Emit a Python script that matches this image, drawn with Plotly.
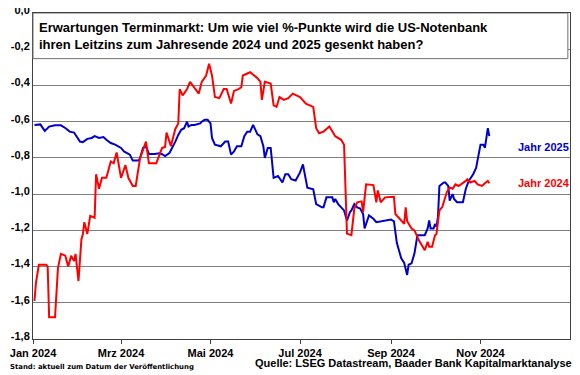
import plotly.graph_objects as go

# ---- data ----
dates_2024 = [
    "2024-01-02", "2024-01-03", "2024-01-05", "2024-01-10", "2024-01-11", "2024-01-12",
    "2024-01-16", "2024-01-18", "2024-01-20", "2024-01-23", "2024-01-25", "2024-01-27",
    "2024-01-29", "2024-01-30", "2024-02-01", "2024-02-03", "2024-02-04", "2024-02-05",
    "2024-02-07", "2024-02-09", "2024-02-12", "2024-02-13", "2024-02-15", "2024-02-17",
    "2024-02-20", "2024-02-23", "2024-02-25", "2024-02-27", "2024-03-01", "2024-03-04",
    "2024-03-06", "2024-03-09", "2024-03-11", "2024-03-14", "2024-03-18", "2024-03-20",
    "2024-03-25", "2024-03-27", "2024-03-29", "2024-03-31", "2024-04-01", "2024-04-04",
    "2024-04-07", "2024-04-09", "2024-04-10", "2024-04-12", "2024-04-15", "2024-04-17",
    "2024-04-20", "2024-04-23", "2024-04-25", "2024-04-28", "2024-04-30", "2024-05-02",
    "2024-05-04", "2024-05-07", "2024-05-10", "2024-05-12", "2024-05-15", "2024-05-17",
    "2024-05-20", "2024-05-22", "2024-05-23", "2024-05-28", "2024-06-02", "2024-06-04",
    "2024-06-05", "2024-06-07", "2024-06-11", "2024-06-13", "2024-06-15", "2024-06-17",
    "2024-06-20", "2024-06-23", "2024-06-26", "2024-07-01", "2024-07-05", "2024-07-08",
    "2024-07-10", "2024-07-12", "2024-07-14", "2024-07-17", "2024-07-21", "2024-07-25",
    "2024-07-29", "2024-07-31", "2024-08-02", "2024-08-05", "2024-08-07", "2024-08-09",
    "2024-08-12", "2024-08-13", "2024-08-15", "2024-08-20", "2024-08-22", "2024-08-23",
    "2024-08-25", "2024-08-28", "2024-09-03", "2024-09-04", "2024-09-06", "2024-09-10",
    "2024-09-11", "2024-09-12", "2024-09-15", "2024-09-17", "2024-09-20", "2024-09-24",
    "2024-09-26", "2024-09-27", "2024-09-29", "2024-10-01", "2024-10-02", "2024-10-04",
    "2024-10-06", "2024-10-08", "2024-10-09", "2024-10-11", "2024-10-13", "2024-10-15",
    "2024-10-17", "2024-10-22", "2024-10-23", "2024-10-25", "2024-10-28", "2024-10-30",
    "2024-11-02", "2024-11-04", "2024-11-06", "2024-11-07",
]
jahr_2024 = [
    -1.59, -1.49, -1.39, -1.39, -1.40, -1.68,
    -1.68, -1.41, -1.33, -1.34, -1.40, -1.34,
    -1.37, -1.33, -1.48, -1.25, -1.22, -1.155,
    -1.22, -1.12, -1.13, -0.89, -0.97, -0.91,
    -0.91, -0.82, -0.83, -0.77, -0.91, -0.84,
    -0.91, -0.955, -0.955, -0.80, -0.71, -0.83,
    -0.83, -0.79, -0.745, -0.74, -0.66, -0.735,
    -0.64, -0.61, -0.42, -0.455, -0.42, -0.38,
    -0.41, -0.445, -0.38, -0.345, -0.28, -0.345,
    -0.464, -0.47, -0.42, -0.42, -0.50, -0.43,
    -0.42, -0.41, -0.345, -0.327, -0.36, -0.38,
    -0.48, -0.38, -0.39, -0.51, -0.518, -0.464,
    -0.48, -0.47, -0.445, -0.464, -0.50, -0.51,
    -0.518, -0.636, -0.664, -0.655, -0.627, -0.68,
    -0.70, -0.727, -1.218, -1.227, -1.08, -1.045,
    -1.04, -1.10, -0.946, -0.95, -1.045, -0.98,
    -1.045, -1.018, -1.015, -1.11, -1.13, -1.164,
    -1.073, -1.15, -1.19, -1.20, -1.255, -1.31,
    -1.264, -1.29, -1.29, -1.227, -1.22, -1.09,
    -1.07, -1.01, -0.99, -0.964, -0.97, -0.946,
    -0.955, -0.927, -0.918, -0.936, -0.927, -0.946,
    -0.955, -0.94, -0.927, -0.94,
]

dates_2025 = [
    "2024-01-02", "2024-01-04", "2024-01-06", "2024-01-09", "2024-01-12", "2024-01-16",
    "2024-01-20", "2024-01-23", "2024-01-26", "2024-01-29", "2024-02-02", "2024-02-04",
    "2024-02-07", "2024-02-10", "2024-02-12", "2024-02-15", "2024-02-18", "2024-02-20",
    "2024-02-23", "2024-02-26", "2024-03-01", "2024-03-03", "2024-03-07", "2024-03-09",
    "2024-03-13", "2024-03-14", "2024-03-16", "2024-03-18", "2024-03-20", "2024-03-24",
    "2024-03-27", "2024-03-29", "2024-03-31", "2024-04-03", "2024-04-05", "2024-04-07",
    "2024-04-09", "2024-04-11", "2024-04-13", "2024-04-15", "2024-04-16", "2024-04-18",
    "2024-04-20", "2024-04-24", "2024-04-25", "2024-04-27", "2024-04-29", "2024-05-01",
    "2024-05-02", "2024-05-04", "2024-05-08", "2024-05-11", "2024-05-13", "2024-05-15",
    "2024-05-17", "2024-05-19", "2024-05-22", "2024-05-24", "2024-05-26", "2024-05-28",
    "2024-05-30", "2024-06-02", "2024-06-04", "2024-06-06", "2024-06-07", "2024-06-09",
    "2024-06-11", "2024-06-13", "2024-06-16", "2024-06-19", "2024-06-21", "2024-06-23",
    "2024-06-25", "2024-06-28", "2024-07-01", "2024-07-03", "2024-07-04", "2024-07-06",
    "2024-07-10", "2024-07-12", "2024-07-16", "2024-07-17", "2024-07-19", "2024-07-23",
    "2024-07-24", "2024-07-25", "2024-07-27", "2024-07-31", "2024-08-02", "2024-08-04",
    "2024-08-05", "2024-08-07", "2024-08-09", "2024-08-11", "2024-08-13", "2024-08-14",
    "2024-08-17", "2024-08-20", "2024-08-22", "2024-08-28", "2024-09-01", "2024-09-03",
    "2024-09-05", "2024-09-08", "2024-09-10", "2024-09-12", "2024-09-13", "2024-09-15",
    "2024-09-17", "2024-09-19", "2024-09-24", "2024-09-26", "2024-09-27", "2024-09-28",
    "2024-09-30", "2024-10-01", "2024-10-02", "2024-10-03", "2024-10-04", "2024-10-07",
    "2024-10-08", "2024-10-10", "2024-10-11", "2024-10-13", "2024-10-14", "2024-10-16",
    "2024-10-20", "2024-10-22", "2024-10-24", "2024-10-27", "2024-10-29", "2024-11-01",
    "2024-11-03", "2024-11-04", "2024-11-06", "2024-11-07",
]
jahr_2025 = [
    -0.618, -0.618, -0.615, -0.651, -0.627, -0.62,
    -0.62, -0.635, -0.655, -0.66, -0.71, -0.713,
    -0.695, -0.69, -0.68, -0.69, -0.685, -0.70,
    -0.718, -0.727, -0.745, -0.764, -0.782, -0.815,
    -0.815, -0.80, -0.745, -0.736, -0.778, -0.778,
    -0.775, -0.78, -0.79, -0.773, -0.745, -0.71,
    -0.673, -0.645, -0.636, -0.60, -0.627, -0.618,
    -0.618, -0.61, -0.60, -0.59, -0.59, -0.61,
    -0.69, -0.727, -0.736, -0.71, -0.71, -0.782,
    -0.764, -0.736, -0.736, -0.68, -0.655, -0.655,
    -0.618, -0.67, -0.68, -0.736, -0.80, -0.745,
    -0.745, -0.91, -0.90, -0.936, -0.89, -0.89,
    -0.918, -0.925, -0.88, -0.836, -0.88, -0.964,
    -0.973, -1.055, -1.073, -1.073, -1.018, -1.018,
    -1.045, -1.027, -1.055, -1.09, -1.146, -1.10,
    -1.09, -1.055, -1.073, -1.08, -1.11, -1.19,
    -1.118, -1.136, -1.155, -1.146, -1.14, -1.15,
    -1.27, -1.355, -1.38, -1.446, -1.39, -1.382,
    -1.327, -1.227, -1.227, -1.19, -1.146, -1.19,
    -1.19, -1.165, -1.18, -1.127, -0.955, -0.936,
    -0.936, -0.955, -1.036, -1.0, -1.027, -1.045,
    -1.045, -0.97, -0.927, -0.89, -0.855, -0.727,
    -0.727, -0.745, -0.636, -0.68,
]

x_tick_vals = ["2024-01-01", "2024-03-01", "2024-05-01", "2024-07-01", "2024-09-01", "2024-11-01"]
x_tick_text = ["Jan 2024", "Mrz 2024", "Mai 2024", "Jul 2024", "Sep 2024", "Nov 2024"]
y_tick_vals = [0.0, -0.2, -0.4, -0.6, -0.8, -1.0, -1.2, -1.4, -1.6, -1.8]
y_tick_text = ["0,0", "-0,2", "-0,4", "-0,6", "-0,8", "-1,0", "-1,2", "-1,4", "-1,6", "-1,8"]

RED = "#ff0000"
BLUE = "#0000cc"
FONT = "Liberation Sans"

fig = go.Figure()
fig.add_trace(go.Scatter(x=dates_2025, y=jahr_2025, mode="lines", name="Jahr 2025",
                         line=dict(color=BLUE, width=2)))
fig.add_trace(go.Scatter(x=dates_2024, y=jahr_2024, mode="lines", name="Jahr 2024",
                         line=dict(color=RED, width=2)))

# page body has an 8px margin, so the figure is sized/offset to compensate
fig.update_layout(
    width=572, height=367,
    margin=dict(l=25, r=10, t=5, b=36, autoexpand=False),
    paper_bgcolor="white", plot_bgcolor="white",
    showlegend=False,
    font=dict(family=FONT, color="black", size=11, weight="bold"),
)
fig.update_xaxes(
    range=["2024-01-01", "2025-01-01"],
    tickvals=x_tick_vals, ticktext=x_tick_text,
    ticks="outside", ticklen=4, tickcolor="#404040",
    showgrid=False, showline=True, linecolor="#404040", linewidth=1, mirror=True,
    automargin=False,
    tickfont=dict(family=FONT, size=11, color="black", weight="bold"),
)
fig.update_yaxes(
    range=[-1.8, 0.0],
    tickvals=y_tick_vals, ticktext=y_tick_text,
    ticks="", showgrid=True, gridcolor="#7f7f7f", gridwidth=1,
    showline=True, linecolor="#404040", linewidth=1, mirror=True,
    zeroline=False, automargin=False, ticklabeloverflow="allow",
    ticklabelshift=-3,
    tickfont=dict(family=FONT, size=11, color="black", weight="bold"),
)

# title box
fig.add_shape(type="rect", xref="paper", yref="y", x0=0, x1=0.996, y0=-0.252, y1=0.0,
              line=dict(color="#6f6f6f", width=1), fillcolor="white", layer="above")
fig.add_annotation(
    xref="paper", yref="y", x=0.008, y=-0.126, xanchor="left", yanchor="middle",
    text="Erwartungen Terminmarkt: Um wie viel %-Punkte wird die US-Notenbank<br>"
         "ihren Leitzins zum Jahresende 2024 und 2025 gesenkt haben?",
    showarrow=False, align="left",
    font=dict(family=FONT, size=13, color="black", weight="bold"),
)

# series labels
fig.add_annotation(xref="paper", yref="paper", x=0.899, y=0.588, xanchor="left", yanchor="middle",
                   text="Jahr 2025", showarrow=False,
                   font=dict(family=FONT, size=11, color=BLUE, weight="bold"))
fig.add_annotation(xref="paper", yref="paper", x=0.899, y=0.479, xanchor="left", yanchor="middle",
                   text="Jahr 2024", showarrow=False,
                   font=dict(family=FONT, size=11, color=RED, weight="bold"))

# footers
fig.add_annotation(xref="paper", yref="paper", x=1.0075, y=-0.075, xanchor="right", yanchor="middle",
                   text="Quelle: LSEG Datastream, Baader Bank Kapitalmarktanalyse", showarrow=False,
                   font=dict(family=FONT, size=11, color="black", weight="bold"))
fig.add_annotation(xref="paper", yref="paper", x=-0.0466, y=-0.0854, xanchor="left", yanchor="middle",
                   text="Stand: aktuell zum Datum der Veröffentlichung", showarrow=False,
                   font=dict(family="DejaVu Sans", size=6.9, color="black", weight="bold"))

fig.write_html("out.html")
